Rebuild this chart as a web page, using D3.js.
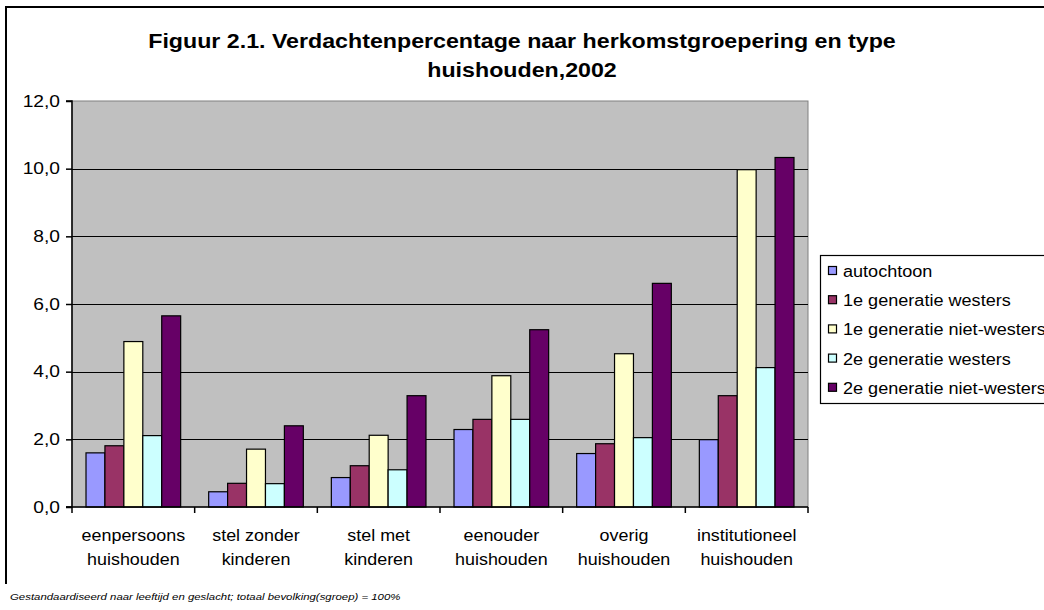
<!DOCTYPE html>
<html>
<head>
<meta charset="utf-8">
<script src="https://cdn.jsdelivr.net/npm/d3@7"></script>
<style>
  body { margin: 0; background: #fff; }
  svg { display: block; font-family: "Liberation Sans", Arial, sans-serif; }
</style>
</head>
<body>
<div id="chart"></div>
<script>
// data
const categories = [
  ["eenpersoons", "huishouden"],
  ["stel zonder", "kinderen"],
  ["stel met", "kinderen"],
  ["eenouder", "huishouden"],
  ["overig", "huishouden"],
  ["institutioneel", "huishouden"]
];
const seriesNames = [
  "autochtoon",
  "1e generatie westers",
  "1e generatie niet-westers",
  "2e generatie westers",
  "2e generatie niet-westers"
];
const autochtoon = [1.6, 0.45, 0.87, 2.29, 1.58, 1.99];
const eersteWesters = [1.81, 0.7, 1.22, 2.59, 1.87, 3.29];
const eersteNietWesters = [4.89, 1.71, 2.12, 3.88, 4.53, 9.97];
const tweedeWesters = [2.11, 0.69, 1.1, 2.59, 2.05, 4.12];
const tweedeNietWesters = [5.65, 2.4, 3.29, 5.24, 6.61, 10.33];
const yTicks = [0, 2, 4, 6, 8, 10, 12];
const colors = ["#9999FF", "#993366", "#FFFFCC", "#CCFFFF", "#660066"];

const allSeries = [autochtoon, eersteWesters, eersteNietWesters, tweedeWesters, tweedeNietWesters];

const W = 1044, H = 610;
const plot = { left: 72, right: 808, top: 101, bottom: 507 };
const SX = 1.2; // the original text is rendered a bit wider than Arial

const svg = d3.select("#chart").append("svg")
  .attr("width", W).attr("height", H);

// helper: text stretched horizontally around its anchor point
function wideText(parent, px, py, str, size, sx = SX) {
  return parent.append("text")
    .attr("transform", `translate(${px},${py}) scale(${sx},1)`)
    .attr("font-size", size)
    .attr("fill", "#000")
    .text(str);
}

// outer frame (left + top edges visible)
svg.append("path")
  .attr("d", `M6,584 V7 H${W + 5}`)
  .attr("fill", "none").attr("stroke", "#000").attr("stroke-width", 2);

// title
wideText(svg, 522, 48, "Figuur 2.1. Verdachtenpercentage naar herkomstgroepering en type", 19.5, 1.19)
  .attr("text-anchor", "middle").attr("font-weight", "bold");
wideText(svg, 522, 77, "huishouden,2002", 19.5, 1.19)
  .attr("text-anchor", "middle").attr("font-weight", "bold");

const x = d3.scaleBand()
  .domain(d3.range(categories.length))
  .range([plot.left, plot.right])
  .paddingInner(0)
  .paddingOuter(0);

const x1 = d3.scaleBand()
  .domain(d3.range(seriesNames.length))
  .range([0, x.bandwidth()])
  .paddingOuter(0.74)
  .paddingInner(0);

const y = d3.scaleLinear()
  .domain([0, 12])
  .range([plot.bottom, plot.top]);

// plot background
svg.append("rect")
  .attr("x", plot.left).attr("y", plot.top)
  .attr("width", plot.right - plot.left)
  .attr("height", plot.bottom - plot.top)
  .attr("fill", "#C0C0C0")
  .attr("stroke", "#808080").attr("stroke-width", 1);

// gridlines
svg.append("g")
  .selectAll("line")
  .data(yTicks.filter(d => d > 0 && d < 12))
  .join("line")
  .attr("x1", plot.left).attr("x2", plot.right)
  .attr("y1", d => Math.round(y(d)) + 0.5).attr("y2", d => Math.round(y(d)) + 0.5)
  .attr("stroke", "#000").attr("stroke-width", 1.2);

// bars
const groups = svg.append("g")
  .selectAll("g")
  .data(categories.map((c, i) => i))
  .join("g")
  .attr("transform", i => `translate(${x(i)},0)`);

groups.selectAll("rect")
  .data(i => allSeries.map((s, k) => ({ k, v: s[i] })))
  .join("rect")
  .attr("x", d => x1(d.k))
  .attr("y", d => y(d.v))
  .attr("width", x1.bandwidth())
  .attr("height", d => y(0) - y(d.v))
  .attr("fill", d => colors[d.k])
  .attr("stroke", "#000")
  .attr("stroke-width", 1.2);

// y axis
const yAxis = svg.append("g")
  .attr("transform", `translate(${plot.left},0)`)
  .call(d3.axisLeft(y).tickValues(yTicks).tickSize(6).tickPadding(4)
    .tickFormat(d => d3.format(".1f")(d).replace(".", ",")));
yAxis.selectAll("text")
  .attr("font-size", 16).attr("fill", "#000")
  .attr("font-family", "Liberation Sans, Arial, sans-serif")
  .attr("transform", `scale(${SX},1)`);
yAxis.selectAll("line").attr("stroke", "#000").attr("stroke-width", 1.5);
yAxis.select(".domain").attr("stroke", "#000").attr("stroke-width", 1.5)
  .attr("d", `M-6,${plot.top}H0V${plot.bottom}H-6`);

// x axis
const xAxisG = svg.append("g")
  .attr("transform", `translate(0,${plot.bottom})`);
xAxisG.append("line")
  .attr("x1", plot.left - 6).attr("x2", plot.right)
  .attr("stroke", "#000").attr("stroke-width", 1.5);
xAxisG.selectAll(".cat-tick")
  .data(d3.range(categories.length + 1))
  .join("line")
  .attr("class", "cat-tick")
  .attr("x1", i => i < categories.length ? x(i) : plot.right)
  .attr("x2", i => i < categories.length ? x(i) : plot.right)
  .attr("y1", 0).attr("y2", 6)
  .attr("stroke", "#000").attr("stroke-width", 1.5);

categories.forEach((lines, i) => {
  lines.forEach((line, j) => {
    wideText(xAxisG, x(i) + x.bandwidth() / 2, 34 + j * 24, line, 16, 1.12)
      .attr("text-anchor", "middle");
  });
});

// legend
const legend = svg.append("g");
legend.append("rect")
  .attr("x", 820.5).attr("y", 255.5)
  .attr("width", 260).attr("height", 148)
  .attr("fill", "#fff").attr("stroke", "#000").attr("stroke-width", 1.2);
const items = legend.selectAll(".item")
  .data(seriesNames)
  .join("g")
  .attr("class", "item")
  .attr("transform", (d, i) => `translate(828,${271 + i * 29.2})`);
items.append("rect")
  .attr("x", 0.5).attr("y", -4.5)
  .attr("width", 8).attr("height", 8)
  .attr("fill", (d, i) => colors[i])
  .attr("stroke", "#000").attr("stroke-width", 1.2);
items.each(function(d) {
  wideText(d3.select(this), 15, 6, d, 16, 1.13);
});

// footnote
wideText(svg, 10, 600, "Gestandaardiseerd naar leeftijd en geslacht; totaal bevolking(sgroep) = 100%", 9.5)
  .attr("font-style", "italic");
</script>
</body>
</html>
